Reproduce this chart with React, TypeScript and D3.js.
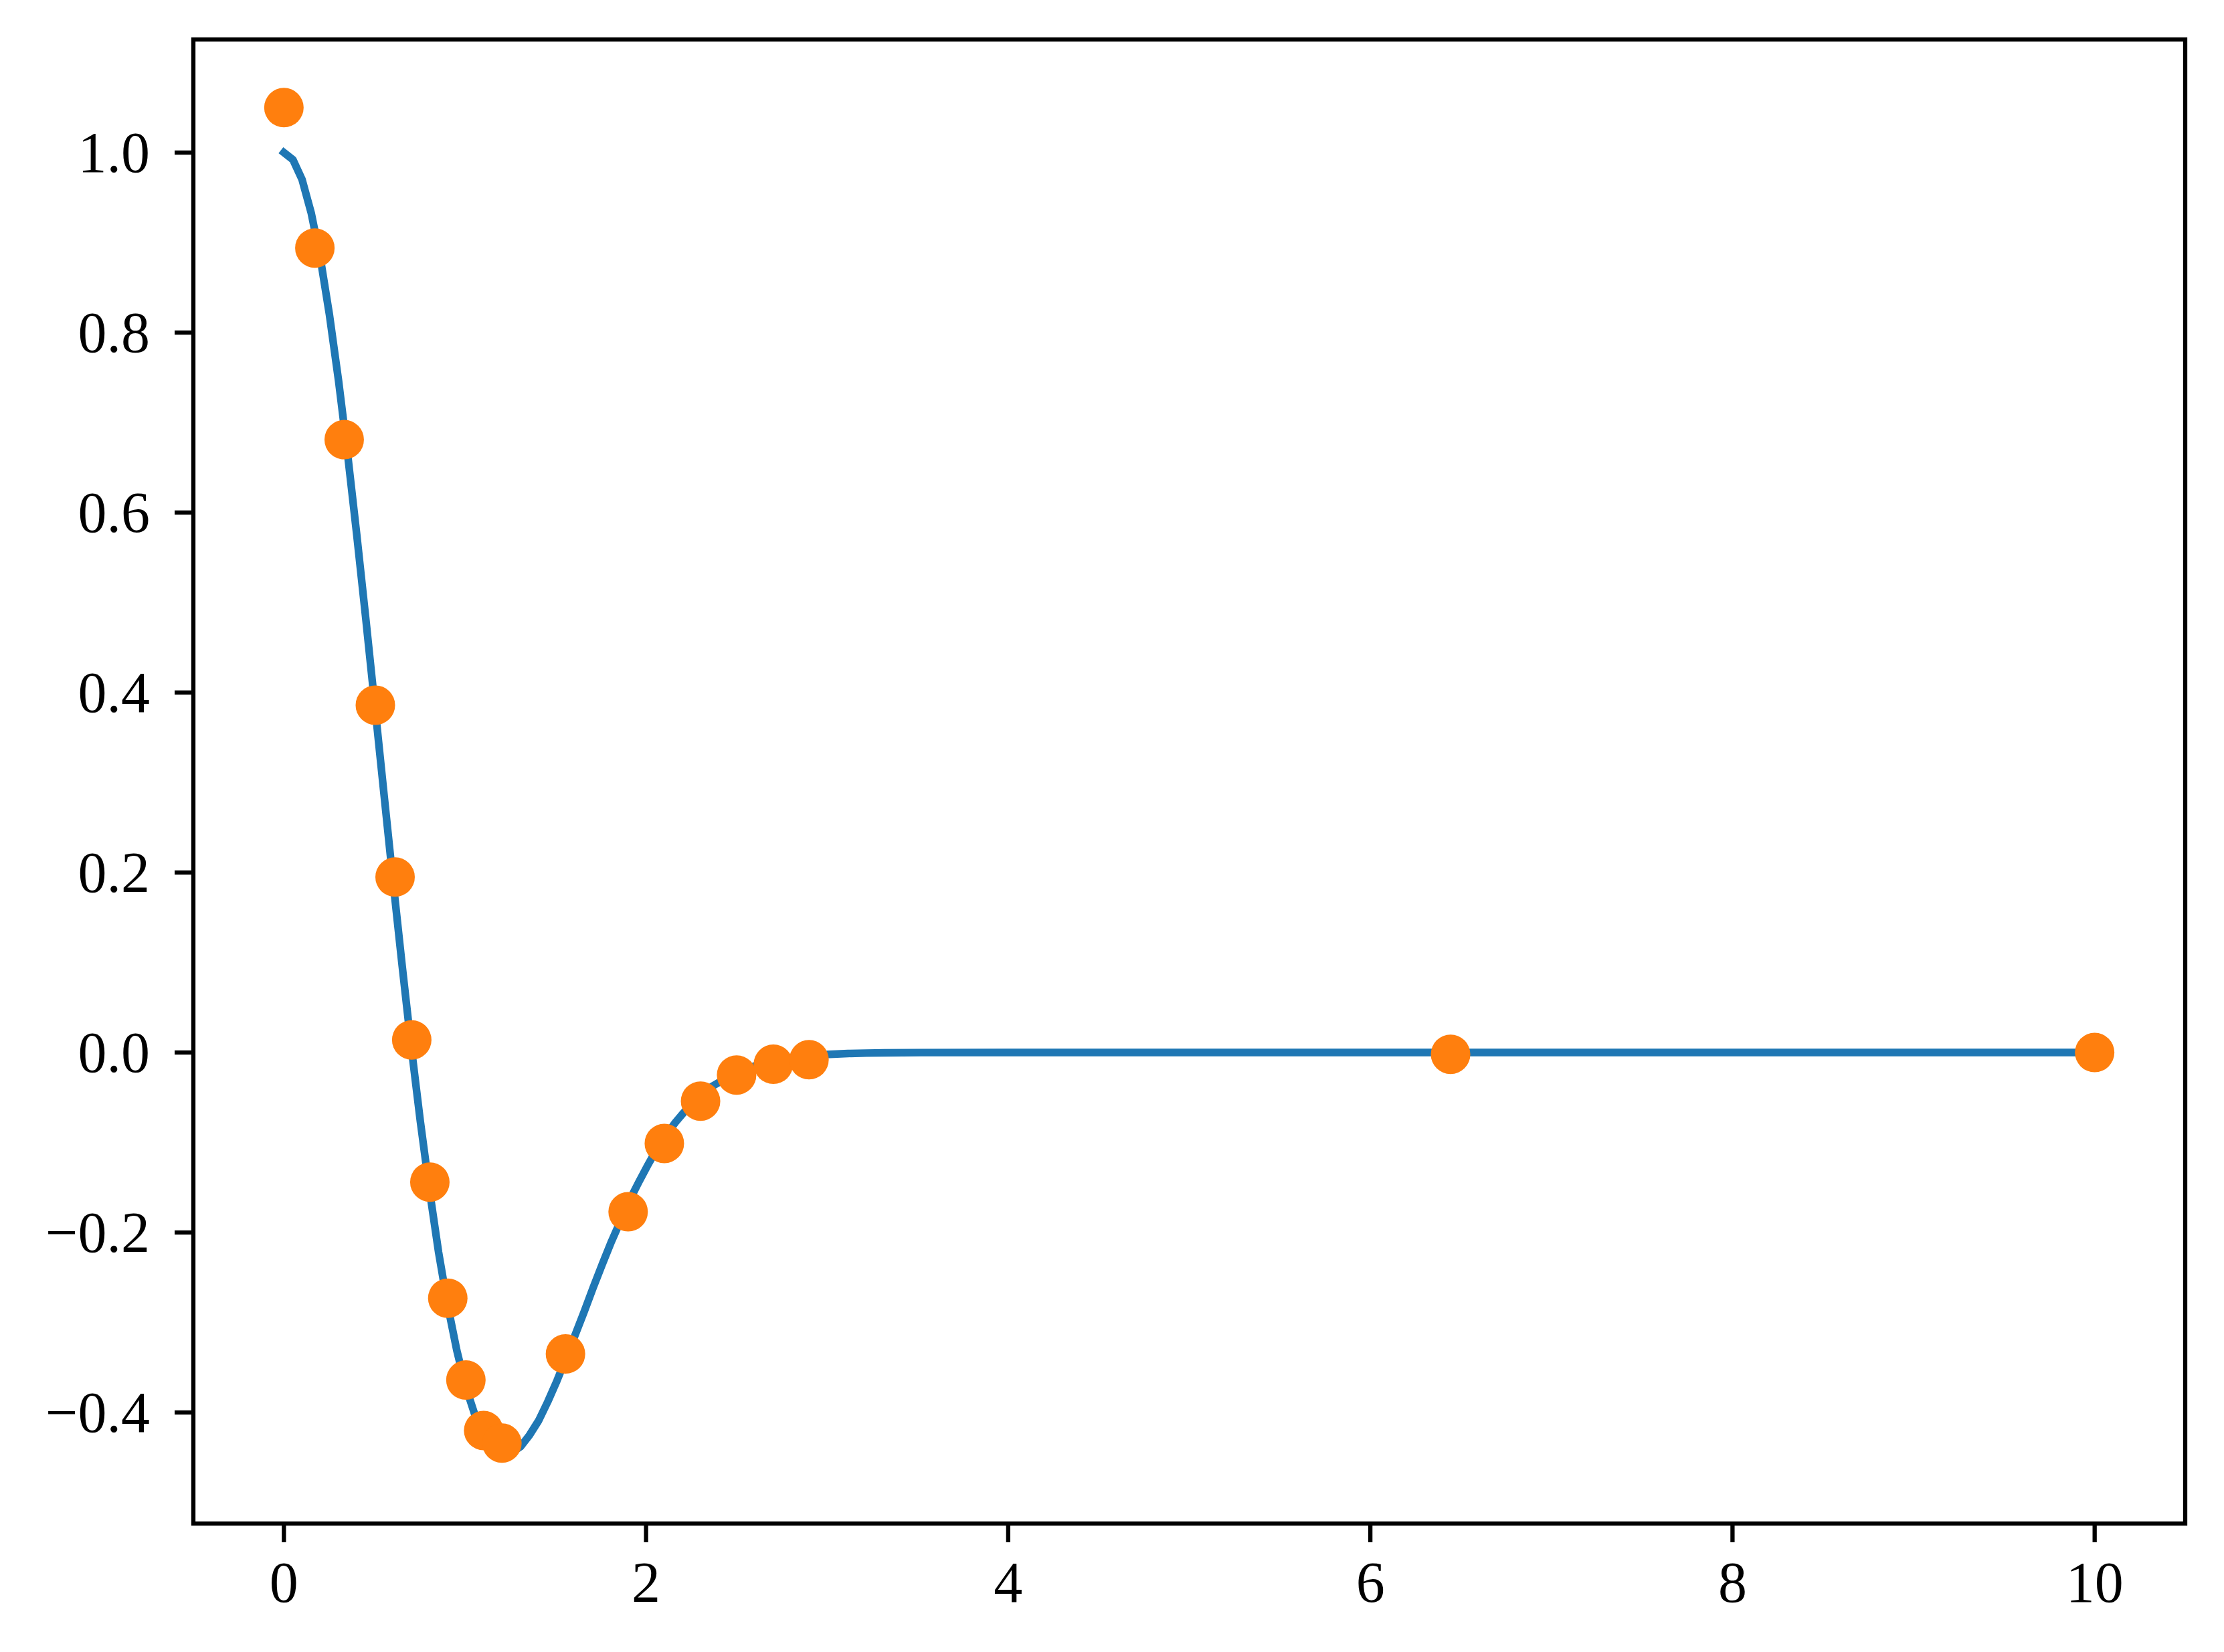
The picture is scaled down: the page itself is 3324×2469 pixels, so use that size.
import React from "react";
import * as d3 from "d3";

const lineX = [
  0, 0.0503, 0.1005, 0.1508, 0.201, 0.2513, 0.3015, 0.3518, 0.402, 0.4523,
  0.5025, 0.5528, 0.603, 0.6533, 0.7035, 0.7538, 0.804, 0.8543, 0.9045, 0.9548,
  1.005, 1.0553, 1.1055, 1.1558, 1.206, 1.2563, 1.3065, 1.3568, 1.407, 1.4573,
  1.5075, 1.5578, 1.608, 1.6583, 1.7085, 1.7588, 1.809, 1.8593, 1.9095, 1.9598,
  2.0101, 2.0603, 2.1106, 2.1608, 2.2111, 2.2613, 2.3116, 2.3618, 2.4121, 2.4623,
  2.5126, 2.6131, 2.7136, 2.8141, 2.9146, 3.0151, 3.1156, 3.2161, 3.3166, 3.5176,
  4.0, 10.0,
];
const lineY = [
  1.0, 0.992, 0.97, 0.933, 0.883, 0.82, 0.747, 0.665, 0.576, 0.482,
  0.385, 0.287, 0.19, 0.096, 0.006, -0.077, -0.153, -0.222, -0.281, -0.331,
  -0.372, -0.403, -0.426, -0.44, -0.446, -0.445, -0.438, -0.425, -0.409, -0.388,
  -0.365, -0.34, -0.314, -0.288, -0.261, -0.235, -0.21, -0.187, -0.164, -0.144,
  -0.125, -0.107, -0.092, -0.078, -0.066, -0.056, -0.046, -0.038, -0.032, -0.026,
  -0.021, -0.014, -0.009, -0.005, -0.003, -0.002, -0.0011, -0.0006, -0.0003, -0.0001,
  0.0, 0.0,
];

// Scattered samples (orange dots)
const dotX = [
  0, 0.171, 0.333, 0.505, 0.614, 0.706, 0.806, 0.905, 1.005, 1.103,
  1.204, 1.555, 1.901, 2.101, 2.301, 2.5, 2.703, 2.9, 6.443, 10.0,
];
const dotY = [
  1.05, 0.894, 0.681, 0.386, 0.195, 0.014, -0.144, -0.273, -0.364, -0.42,
  -0.434, -0.335, -0.177, -0.101, -0.054, -0.025, -0.013, -0.008, -0.002, 0.0,
];

const xTicks = [0, 2, 4, 6, 8, 10];
const xTickLabels = ["0", "2", "4", "6", "8", "10"];
const yTicks = [-0.4, -0.2, 0.0, 0.2, 0.4, 0.6, 0.8, 1.0];
const yTickLabels = ["\u22120.4", "\u22120.2", "0.0", "0.2", "0.4", "0.6", "0.8", "1.0"];

const W = 3324;
const H = 2469;
const L = 289;
const R = 3266;
const T = 59;
const B = 2277;

export default function App() {
  const x = d3.scaleLinear().domain([-0.5, 10.5]).range([L, R]);
  const y = d3.scaleLinear().domain([-0.5234, 1.1257]).range([B, T]);

  const pts: [number, number][] = lineX.map((v, i) => [v, lineY[i]]);
  const path = d3
    .line<[number, number]>()
    .x((d) => x(d[0]))
    .y((d) => y(d[1]))(pts) as string;

  const font = "'Liberation Serif', 'DejaVu Serif', serif";
  const fs = 86;
  const tickLen = 28;
  const axisW = 6.3;

  return (
    <svg
      width={W}
      height={H}
      viewBox={`0 0 ${W} ${H}`}
      style={{ position: "absolute", left: 0, top: 0, background: "#fff" }}
    >
      <rect x={0} y={0} width={W} height={H} fill="#fff" />
      <defs>
        <clipPath id="plotclip">
          <rect x={L} y={T} width={R - L} height={B - T} />
        </clipPath>
      </defs>
      <g clipPath="url(#plotclip)">
        <path
          d={path}
          fill="none"
          stroke="#1f77b4"
          strokeWidth={11.4}
          strokeLinejoin="round"
          strokeLinecap="square"
        />
        {dotX.map((v, i) => (
          <circle key={i} cx={x(v)} cy={y(dotY[i])} r={29.5} fill="#ff7f0e" />
        ))}
      </g>

      {xTicks.map((t, i) => (
        <g key={"xt" + i}>
          <line x1={x(t)} x2={x(t)} y1={B} y2={B + tickLen} stroke="#000" strokeWidth={6.3} />
          <text
            x={x(t)}
            y={2394}
            textAnchor="middle"
            fontFamily={font}
            fontSize={fs}
            fill="#000"
          >
            {xTickLabels[i]}
          </text>
        </g>
      ))}
      {yTicks.map((t, i) => (
        <g key={"yt" + i}>
          <line x1={L - tickLen} x2={L} y1={y(t)} y2={y(t)} stroke="#000" strokeWidth={6.3} />
          <text
            x={224}
            y={y(t)}
            dy="0.34em"
            textAnchor="end"
            fontFamily={font}
            fontSize={fs}
            fill="#000"
          >
            {yTickLabels[i]}
          </text>
        </g>
      ))}

      <rect
        x={L}
        y={T}
        width={R - L}
        height={B - T}
        fill="none"
        stroke="#000"
        strokeWidth={axisW}
        strokeLinejoin="miter"
      />
    </svg>
  );
}
